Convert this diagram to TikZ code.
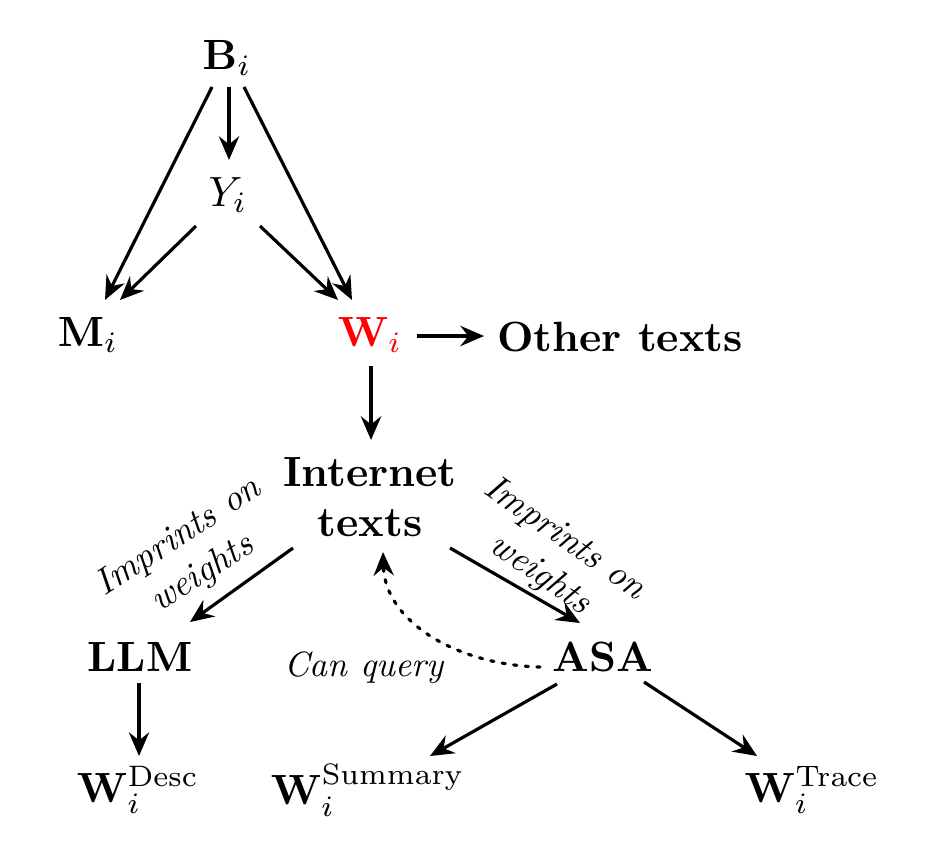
\documentclass[tikz,border=0pt]{standalone}
\usepackage{graphicx}
\usetikzlibrary{arrows.meta,calc}
\newcommand{\smallit}[2][0.83]{\scalebox{#1}{\begin{tabular}{@{}c@{}}#2\end{tabular}}}
\begin{document}
\begin{tikzpicture}[x=0.2364pt,y=-0.2364pt,
  arr/.style={-{Stealth[length=5.6pt,width=4.8pt,inset=1.9pt]}, line width=0.75pt},
  lbl/.style={font=\itshape, align=center},
  bnode/.style={font=\bfseries, align=center}]
\useasboundingbox (0,0) rectangle (930,855);
\node (B) at (227,58) {$\mathbf{B}_i$};
\node (Y) at (228,195) {$Y_i$};
\node (M) at (88,335) {$\mathbf{M}_i$};
\node[text=red] (W) at (370,335) {$\mathbf{W}_i$};
\node[bnode] (O) at (620,337) {Other texts};
\node[bnode] (I) at (370,497) {Internet\\texts};
\node[bnode] (L) at (140,657) {LLM};
\node[bnode] (A) at (603,657) {ASA};
\node[lbl] (Q) at (364,668) {\smallit{Can query}};
\node (D) at (138,790) {$\mathbf{W}_i^{\mathrm{Desc}}$};
\node (S) at (368,790) {$\mathbf{W}_i^{\mathrm{Summary}}$};
\node (T) at (812,790) {$\mathbf{W}_i^{\mathrm{Trace}}$};
\node[lbl, rotate=33] (L1) at (191,556) {\smallit[0.86]{Imprints on\\weights}};
\node[lbl, rotate=-35] (L2) at (552,557) {\smallit[0.86]{Imprints on\\weights}};
\draw[arr] ($(B)+(-15,29)$) -- ($(M)+(17,-35)$);
\draw[arr] ($(B)+(2,29)$) -- ($(Y)+(1,-35)$);
\draw[arr] ($(B)+(17,29)$) -- ($(W)+(-18,-35)$);
\draw[arr] ($(Y)+(-32,31)$) -- ($(M)+(32,-35)$);
\draw[arr] ($(Y)+(32,31)$) -- ($(W)+(-32,-35)$);
\draw[arr] ($(W)+(47,1)$) -- ($(O)+(-136,-1)$);
\draw[arr] ($(W)+(1,31)$) -- ($(I)+(1,-57)$);
\draw[arr] ($(I)+(-77,51)$) -- ($(L)+(50,-35)$);
\draw[arr] ($(I)+(80,51)$) -- ($(A)+(-23,-34)$);
\draw[arr, dotted, line cap=round] ($(A)+(-63,10)$) .. controls ($(A)+(-145,8)$) and ($(I)+(15,125)$) .. ($(I)+(13,55)$);
\draw[arr] ($(L)+(-1,26)$) -- ($(D)+(1,-34)$);
\draw[arr] ($(A)+(-46,27)$) -- ($(S)+(62,-34)$);
\draw[arr] ($(A)+(41,25)$) -- ($(T)+(-55,-34)$);
\end{tikzpicture}
\end{document}
